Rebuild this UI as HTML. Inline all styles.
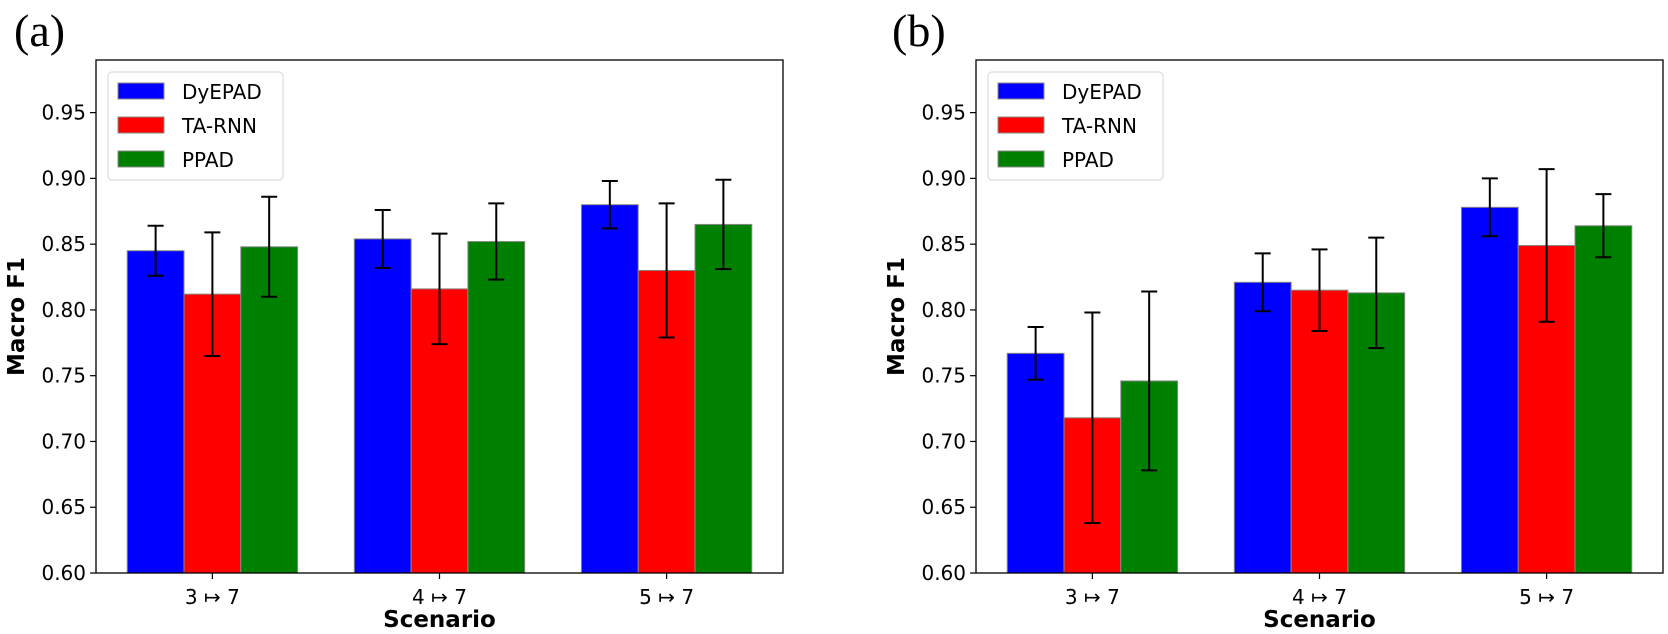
<!DOCTYPE html>
<html><head><meta charset="utf-8"><style>
html,body{margin:0;padding:0;background:#fff;}
svg{display:block;}
text{font-family:"DejaVu Sans","Liberation Sans",sans-serif;fill:#000;}
</style></head><body>
<svg id="chart" width="1668" height="634" viewBox="0 0 1668 634" xmlns="http://www.w3.org/2000/svg"></svg>
<script>
const categories = ["3 \u21A6 7", "4 \u21A6 7", "5 \u21A6 7"];
const seriesNames = ["DyEPAD", "TA-RNN", "PPAD"];
const seriesColors = ["#0000ff", "#ff0000", "#008000"];
const yTicks = [0.60, 0.65, 0.70, 0.75, 0.80, 0.85, 0.90, 0.95];
// panel (a)
const aDyEPAD = [0.845, 0.854, 0.880];
const aTARNN  = [0.812, 0.816, 0.830];
const aPPAD   = [0.848, 0.852, 0.865];
const aDyEPADErr = [0.019, 0.022, 0.018];
const aTARNNErr  = [0.047, 0.042, 0.051];
const aPPADErr   = [0.038, 0.029, 0.034];
// panel (b)
const bDyEPAD = [0.767, 0.821, 0.878];
const bTARNN  = [0.718, 0.815, 0.849];
const bPPAD   = [0.746, 0.813, 0.864];
const bDyEPADErr = [0.020, 0.022, 0.022];
const bTARNNErr  = [0.080, 0.031, 0.058];
const bPPADErr   = [0.068, 0.042, 0.024];

const NS = "http://www.w3.org/2000/svg";
const svg = document.getElementById("chart");
function mk(tag, attrs, parent){
  const e = document.createElementNS(NS, tag);
  for (const k in attrs) e.setAttribute(k, attrs[k]);
  (parent||svg).appendChild(e);
  return e;
}
const Y0 = 573, Y1 = 60, YMIN = 0.6, YMAX = 0.99;

function panel(label, left, vals, errs, key){
  const right = left + 687;
  const g = mk("g", {});
  
  
  const y = v => Y0 - (v - YMIN) / (YMAX - YMIN) * (Y0 - Y1);
  const xmin = -0.5125, xmax = 2.5125;
  const x = u => left + (u - xmin) / (xmax - xmin) * (right - left);
  const bw = 0.25;
  const pl = mk("text", {x: label === "(a)" ? 14 : 892, y: 46, "font-size": 46, style: "font-family:'Liberation Serif',serif"}, g);
  pl.textContent = label;
  
  
  for (let s = 0; s < 3; s++) {
    for (let i = 0; i < categories.length; i++) {
      const cx = i + (s - 1) * bw;
      const x0 = x(cx - bw / 2), x1 = x(cx + bw / 2);
      const r = mk("rect", {x: x0, y: y(vals[s][i]), width: x1 - x0, height: Y0 - y(vals[s][i]), fill: seriesColors[s], stroke: "#888", "stroke-width": 1}, g);
      
      
    }
  }
  for (let s = 0; s < 3; s++) {
    for (let i = 0; i < categories.length; i++) {
      const cx = x(i + (s - 1) * bw);
      const hi = y(vals[s][i] + errs[s][i]), lo = y(vals[s][i] - errs[s][i]);
      const eg = mk("g", {stroke: "#000", "stroke-width": 2}, g);
      
      
      mk("line", {x1: cx, x2: cx, y1: hi, y2: lo}, eg);
      mk("line", {x1: cx - 8, x2: cx + 8, y1: hi, y2: hi}, eg);
      mk("line", {x1: cx - 8, x2: cx + 8, y1: lo, y2: lo}, eg);
    }
  }
  const fr = mk("rect", {x: left, y: Y1, width: right - left, height: Y0 - Y1, fill: "none", stroke: "#000", "stroke-width": 1.3}, g);
  
  
  yTicks.forEach(t => {
    const yy = y(t);
    mk("line", {x1: left - 6, x2: left, y1: yy, y2: yy, stroke: "#000", "stroke-width": 1.2}, g);
    const tx = mk("text", {x: left - 10, y: yy + 7, "font-size": 20, "text-anchor": "end"}, g);
    tx.textContent = t.toFixed(2);
    
    
  });
  categories.forEach((c, i) => {
    const xx = x(i);
    mk("line", {x1: xx, x2: xx, y1: Y0, y2: Y0 + 6, stroke: "#000", "stroke-width": 1.2}, g);
    const tx = mk("text", {x: xx, y: Y0 + 31, "font-size": 20, "text-anchor": "middle"}, g);
    tx.textContent = c;
    
    
  });
  const xt = mk("text", {x: (left + right) / 2, y: 627, "font-size": 23, "font-weight": "bold", "text-anchor": "middle"}, g);
  xt.textContent = "Scenario";
  
  
  const ax = left - 72;
  const yt = mk("text", {x: 0, y: 0, "font-size": 23, "font-weight": "bold", "text-anchor": "middle", transform: "translate(" + ax + "," + ((Y0 + Y1) / 2) + ") rotate(-90)"}, g);
  yt.textContent = "Macro F1";
  
  
  const lg = mk("g", {}, g);
  
  
  mk("rect", {x: left + 12, y: 72, width: 175, height: 108, rx: 4, fill: "#fff", stroke: "#ddd", "stroke-width": 1.2}, lg);
  seriesNames.forEach((n, s) => {
    const ly = 83 + s * 34;
    const le = mk("g", {}, lg);
    
    
    mk("rect", {x: left + 22, y: ly, width: 46, height: 16, fill: seriesColors[s], stroke: "#888", "stroke-width": 1}, le);
    const t = mk("text", {x: left + 86, y: ly + 16, "font-size": 20}, le);
    t.textContent = n;
  });
}
panel("(a)", 96, [aDyEPAD, aTARNN, aPPAD], [aDyEPADErr, aTARNNErr, aPPADErr], "a");
panel("(b)", 976, [bDyEPAD, bTARNN, bPPAD], [bDyEPADErr, bTARNNErr, bPPADErr], "b");
</script>
</body></html>
